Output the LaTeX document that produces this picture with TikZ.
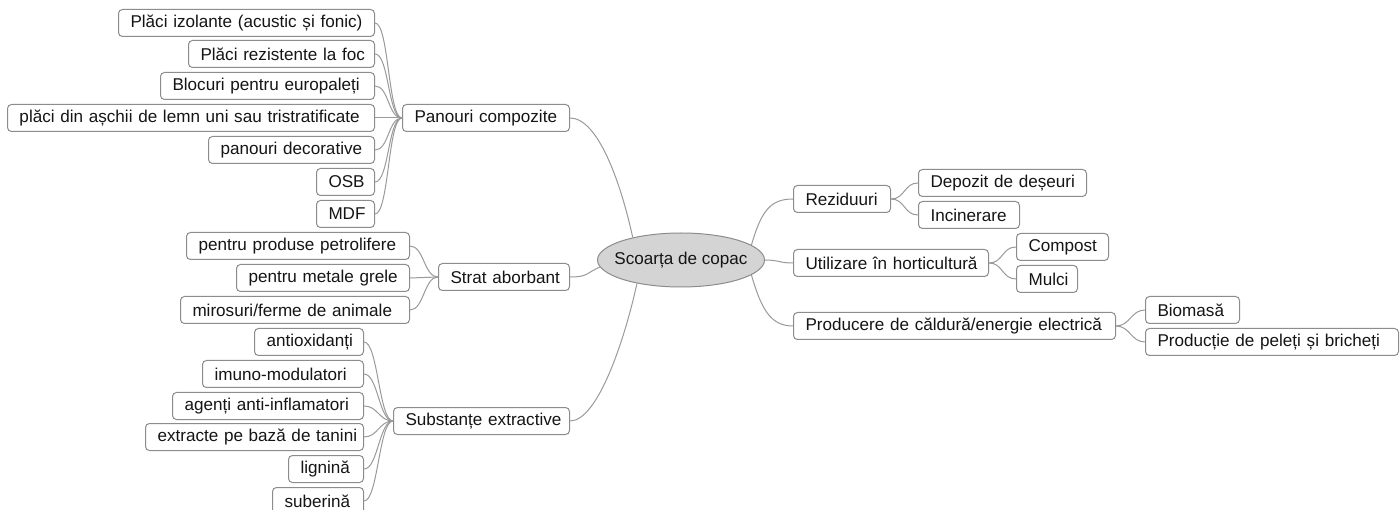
\documentclass[tikz,border=0pt]{standalone}
\usepackage{fontspec}
\setmainfont{Liberation Sans}
\usetikzlibrary{shapes.geometric}
\definecolor{boxgray}{HTML}{8C8C8C}
\definecolor{linegray}{HTML}{9A9A9A}
\definecolor{ellfill}{HTML}{D4D4D4}
\definecolor{txt}{HTML}{151515}
\newcommand{\fs}{\fontsize{17.1}{20}\selectfont}
\tikzset{
  box/.style={draw=boxgray, line width=1pt, rounded corners=4pt, fill=white,
    minimum height=27pt, inner xsep=12pt, inner ysep=2pt, anchor=west,
    align=left, font=\fs, text=txt},
  conn/.style={draw=linegray, line width=1pt},
  rootnode/.style={ellipse, draw=boxgray, line width=1pt, fill=ellfill,
    minimum width=167pt, minimum height=54pt, inner xsep=-8pt, inner ysep=0pt,
    font=\fs, text=txt},
}
\begin{document}
\begin{tikzpicture}[x=1pt,y=-1pt]
\useasboundingbox (0,0) rectangle (1400,510);
\clip (0,0) rectangle (1400,510);
\fill[white] (0,0) rectangle (1400,510);
% root
\node[rootnode] (root) at (681,260) {Scoarța de copac};
% left branches
\node[box, text width=143pt] (pan) at (402,118) {\mbox{Panouri compozite}};
\node[box, text width=232pt] (p1) at (118,23) {\mbox{Plăci izolante (acustic și fonic)}};
\node[box, text width=162pt] (p2) at (188,54) {\mbox{Plăci rezistente la foc}};
\node[box, text width=190pt] (p3) at (160,86) {\mbox{Blocuri pentru europaleți}};
\node[box, text width=343pt] (p4) at (7,118) {\mbox{plăci din așchii de lemn uni sau tristratificate}};
\node[box, text width=142pt] (p5) at (208,150) {\mbox{panouri decorative}};
\node[box, text width=34pt] (p6) at (316,182) {\mbox{OSB}};
\node[box, text width=34pt] (p7) at (316,214) {\mbox{MDF}};

\node[box, text width=107pt] (str) at (438,277) {\mbox{Strat aborbant}};
\node[box, text width=199pt] (s1) at (186,246) {\mbox{pentru produse petrolifere}};
\node[box, text width=149pt] (s2) at (236,278) {\mbox{pentru metale grele}};
\node[box, text width=205pt] (s3) at (180,310) {\mbox{mirosuri/ferme de animale}};

\node[box, text width=152pt] (sub) at (393,421) {\mbox{Substanțe extractive}};
\node[box, text width=85pt] (e1) at (254,342) {\mbox{antioxidanți}};
\node[box, text width=137pt] (e2) at (202,374) {\mbox{imuno-modulatori}};
\node[box, text width=167pt] (e3) at (172,406) {\mbox{agenți anti-inflamatori}};
\node[box, text width=194pt] (e4) at (145,437) {\mbox{extracte pe bază de tanini}};
\node[box, text width=51pt] (e5) at (288,469) {\mbox{lignină}};
\node[box, text width=67pt] (e6) at (272,501) {\mbox{suberină}};
% right branches
\node[box, text width=73pt] (rez) at (793,199) {\mbox{Reziduuri}};
\node[box, text width=144pt] (r1) at (918,183) {\mbox{Depozit de deșeuri}};
\node[box, text width=77pt] (r2) at (918,215) {\mbox{Incinerare}};

\node[box, text width=171pt] (uti) at (793,263) {\mbox{Utilizare în horticultură}};
\node[box, text width=68pt] (u1) at (1016,247) {\mbox{Compost}};
\node[box, text width=37pt] (u2) at (1016,279) {\mbox{Mulci}};

\node[box, text width=298pt] (pro) at (793,326) {\mbox{Producere de căldură/energie electrică}};
\node[box, text width=70pt] (q1) at (1145,310) {\mbox{Biomasă}};
\node[box, text width=229pt] (q2) at (1145,342) {\mbox{Producție de peleți și bricheți}};

% root connectors
\draw[conn] (pan.east) .. controls +(28,0) and +(-12,-55) .. (root.155);
\draw[conn] (str.east) .. controls +(18,0) and +(-14,6) .. (root.185);
\draw[conn] (sub.east) .. controls +(28,0) and +(-12,55) .. (root.208);
\draw[conn] (root.12) .. controls +(10,-35) and +(-22,0) .. (rez.west);
\draw[conn] (root.east) .. controls +(14,0) and +(-14,0) .. (uti.west);
\draw[conn] (root.348) .. controls +(10,35) and +(-22,0) .. (pro.west);
% left children
\foreach \c in {p1,p2,p3,p4,p5,p6,p7}
  \draw[conn] (\c.east) .. controls +(14,0) and +(-14,0) .. (pan.west);
\foreach \c in {s1,s2,s3}
  \draw[conn] (\c.east) .. controls +(14,0) and +(-14,0) .. (str.west);
\foreach \c in {e1,e2,e3,e4,e5,e6}
  \draw[conn] (\c.east) .. controls +(14,0) and +(-14,0) .. (sub.west);
% right children
\foreach \c in {r1,r2}
  \draw[conn] (rez.east) .. controls +(14,0) and +(-14,0) .. (\c.west);
\foreach \c in {u1,u2}
  \draw[conn] (uti.east) .. controls +(14,0) and +(-14,0) .. (\c.west);
\foreach \c in {q1,q2}
  \draw[conn] (pro.east) .. controls +(14,0) and +(-14,0) .. (\c.west);
\end{tikzpicture}
\end{document}
